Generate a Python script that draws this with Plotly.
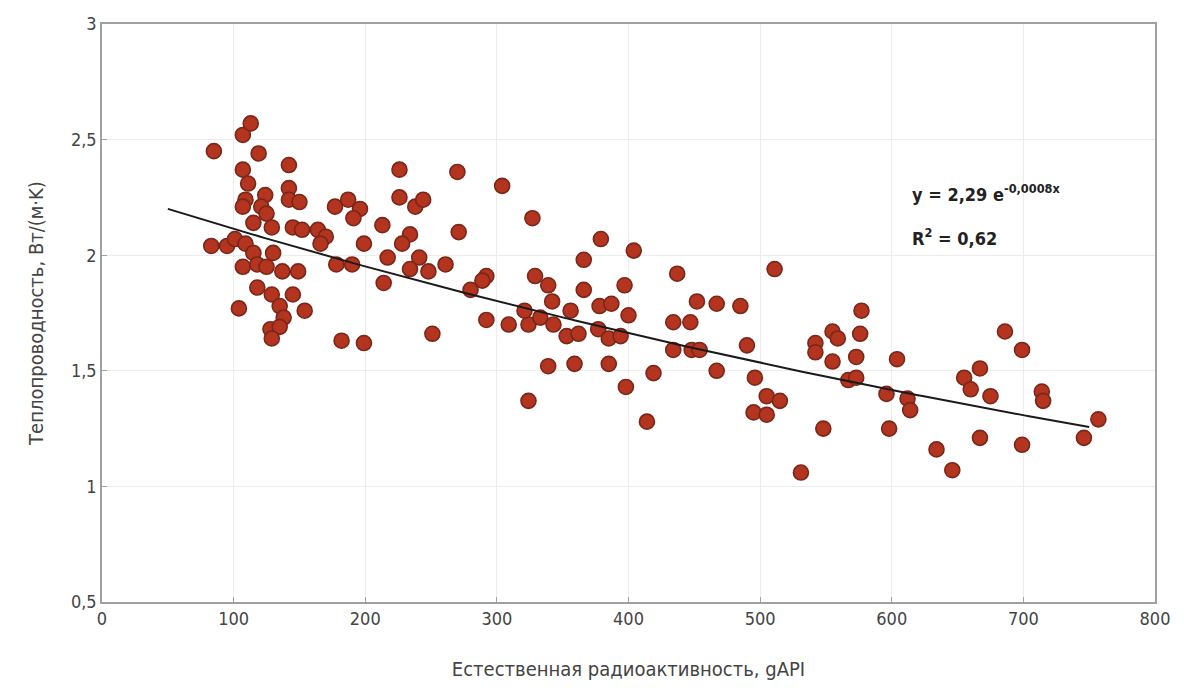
import numpy as np
import plotly.graph_objects as go

# Natural gamma activity (gAPI) and thermal conductivity, W/(m·K)
gamma_api = [
    85, 107, 113, 119, 142, 107, 111, 109, 107, 124, 121, 125, 142, 142, 150,
    115, 129, 145, 164, 83, 95, 101, 109, 115, 107, 118, 130, 125, 137, 149,
    118, 145, 129, 135, 104, 154, 138, 128, 135, 129, 152,
    177, 187, 196, 191, 170, 166, 213, 199, 178, 190, 214, 217, 226, 226, 238,
    244, 234, 228, 241, 234, 248, 261, 270, 271, 304, 327, 329, 292, 289, 280,
    292, 309, 324, 321, 182, 199, 251, 324,
    379, 366, 404, 339, 366, 397, 437, 511, 342, 356, 378, 387, 400, 333, 343,
    353, 362, 377, 385, 394, 434, 447, 452, 467, 485, 434, 448, 454, 490, 339,
    359, 385, 419, 467, 496, 398, 505, 515, 495, 505, 414, 531,
    577, 576, 555, 559, 542, 542, 573, 555, 604, 567, 573, 686, 699, 667, 655,
    660, 675, 714, 715, 757, 746, 596, 612, 614, 548, 598, 667, 699, 634, 646,
]
conductivity = [
    2.45, 2.52, 2.57, 2.44, 2.39, 2.37, 2.31, 2.24, 2.21, 2.26, 2.21, 2.18, 2.29, 2.24, 2.23,
    2.14, 2.12, 2.12, 2.11, 2.04, 2.04, 2.07, 2.05, 2.01, 1.95, 1.96, 2.01, 1.95, 1.93, 1.93,
    1.86, 1.83, 1.83, 1.78, 1.77, 1.76, 1.73, 1.68, 1.69, 1.64, 2.11,
    2.21, 2.24, 2.20, 2.16, 2.08, 2.05, 2.13, 2.05, 1.96, 1.96, 1.88, 1.99, 2.37, 2.25, 2.21,
    2.24, 2.09, 2.05, 1.99, 1.94, 1.93, 1.96, 2.36, 2.10, 2.30, 2.16, 1.91, 1.91, 1.89, 1.85,
    1.72, 1.70, 1.70, 1.76, 1.63, 1.62, 1.66, 1.37,
    2.07, 1.98, 2.02, 1.87, 1.85, 1.87, 1.92, 1.94, 1.80, 1.76, 1.78, 1.79, 1.74, 1.73, 1.70,
    1.65, 1.66, 1.68, 1.64, 1.65, 1.71, 1.71, 1.80, 1.79, 1.78, 1.59, 1.59, 1.59, 1.61, 1.52,
    1.53, 1.53, 1.49, 1.50, 1.47, 1.43, 1.39, 1.37, 1.32, 1.31, 1.28, 1.06,
    1.76, 1.66, 1.67, 1.64, 1.62, 1.58, 1.56, 1.54, 1.55, 1.46, 1.47, 1.67, 1.59, 1.51, 1.47,
    1.42, 1.39, 1.41, 1.37, 1.29, 1.21, 1.40, 1.38, 1.33, 1.25, 1.25, 1.21, 1.18, 1.16, 1.07,
]

# Exponential fit y = a * exp(b * x)
fit_a = 2.29
fit_b = -0.0008
fit_r2 = 0.62
fit_x = np.linspace(50, 750, 200)
fit_y = fit_a * np.exp(fit_b * fit_x)

x_ticks = [0, 100, 200, 300, 400, 500, 600, 700, 800]
y_ticks = [0.5, 1, 1.5, 2, 2.5, 3]
y_tick_text = ["0,5", "1", "1,5", "2", "2,5", "3"]

font_family = "DejaVu Sans Condensed, Liberation Sans Narrow, Liberation Sans, Arial"

fig = go.Figure()
fig.add_trace(go.Scatter(
    x=gamma_api, y=conductivity, mode="markers",
    marker=dict(size=15, color="#B3341F", line=dict(color="#7A2619", width=1.6)),
    showlegend=False, hoverinfo="x+y",
))
fig.add_trace(go.Scatter(
    x=fit_x, y=fit_y, mode="lines",
    line=dict(color="#1a1a1a", width=2),
    showlegend=False, hoverinfo="skip",
))

fig.add_annotation(
    x=614, y=2.27, xref="x", yref="y", xanchor="left", yanchor="middle",
    text="<b>y = 2,29 e<sup>-0,0008x</sup></b>", showarrow=False,
    font=dict(family=font_family, size=18, color="#222"),
)
fig.add_annotation(
    x=614, y=2.08, xref="x", yref="y", xanchor="left", yanchor="middle",
    text="<b>R<sup>2</sup> = 0,62</b>", showarrow=False,
    font=dict(family=font_family, size=18, color="#222"),
)

axis_common = dict(
    showgrid=True, gridcolor="#ececec", gridwidth=1,
    showline=True, linecolor="#a0a0a0", linewidth=1.5, mirror=True,
    ticks="inside", ticklen=5, tickcolor="#a0a0a0",
    zeroline=False,
    tickfont=dict(family=font_family, size=18, color="#444"),
)

fig.update_layout(
    width=1184, height=695,
    margin=dict(l=102, r=29, t=24, b=93),
    paper_bgcolor="white", plot_bgcolor="white",
    xaxis=dict(
        range=[0, 800], tickvals=x_ticks,
        title=dict(text="Естественная радиоактивность, gAPI", standoff=34,
                   font=dict(family=font_family, size=20, color="#444")),
        **axis_common,
    ),
    yaxis=dict(
        range=[0.5, 3], tickvals=y_ticks, ticktext=y_tick_text,
        title=dict(text="Теплопроводность, Вт/(м·K)", standoff=22,
                   font=dict(family=font_family, size=20, color="#444")),
        **axis_common,
    ),
)

fig.write_html("out.html")
